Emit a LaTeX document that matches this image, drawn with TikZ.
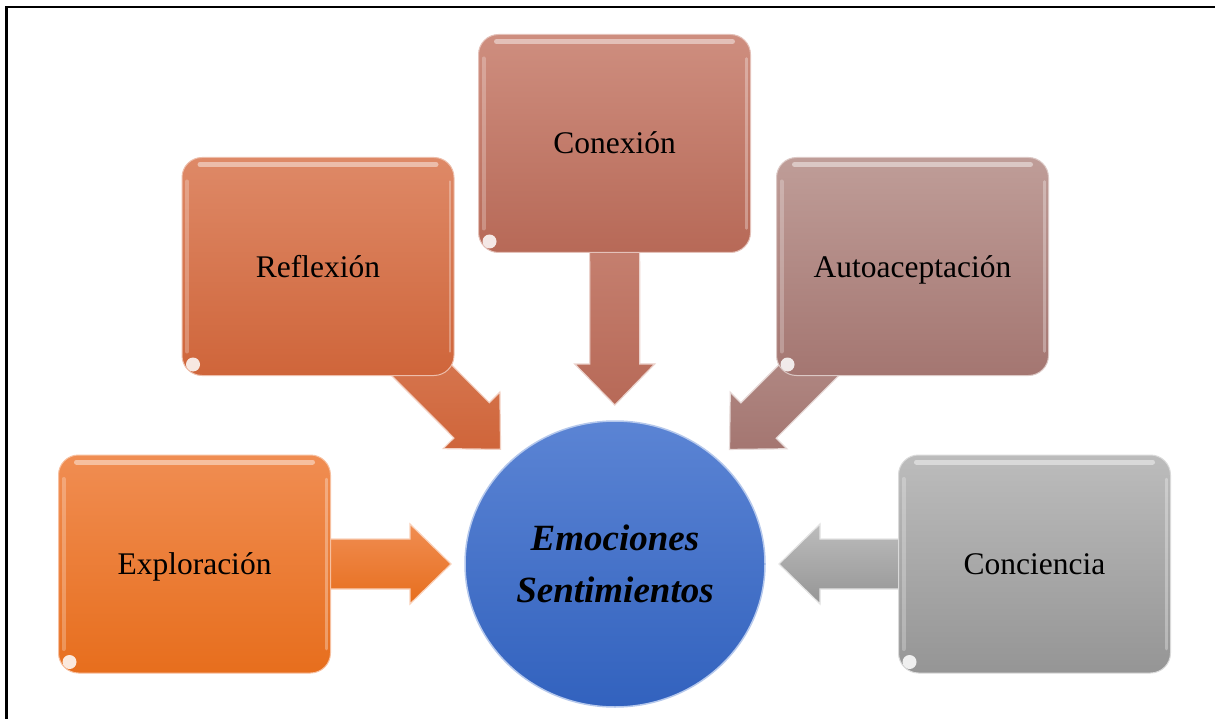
\documentclass[tikz,border=0pt]{standalone}
\usepackage{fontspec}
\setmainfont{Liberation Serif}
\usetikzlibrary{calc,shapes.geometric}
\pgfdeclarelayer{background}
\pgfsetlayers{background,main}

\definecolor{exT}{HTML}{F08D52}
\definecolor{exB}{HTML}{E76E1D}
\definecolor{reT}{HTML}{DE8967}
\definecolor{reB}{HTML}{CF653A}
\definecolor{coT}{HTML}{CE8E7F}
\definecolor{coB}{HTML}{B76957}
\definecolor{auT}{HTML}{BF9D98}
\definecolor{auB}{HTML}{A47671}
\definecolor{ciT}{HTML}{BCBCBC}
\definecolor{ciB}{HTML}{959595}
\definecolor{emT}{HTML}{5B84D4}
\definecolor{emB}{HTML}{3262BE}

\tikzset{
  box/.style 2 args={rectangle, rounded corners=20pt, minimum width=272pt,
    minimum height=218pt, top color=#1, bottom color=#2, draw=#1!55!white,
    line width=1pt, text=black, font=\fontsize{31.5}{36}\selectfont,
    text height=28pt, text depth=7pt,
    path picture={
      \draw[white, opacity=.45, line width=5pt, line cap=round]
        ([xshift=18pt,yshift=-7pt]path picture bounding box.north west) --
        ([xshift=-18pt,yshift=-7pt]path picture bounding box.north east);
      \draw[white, opacity=.25, line width=4pt, line cap=round]
        ([xshift=5pt,yshift=-24pt]path picture bounding box.north west) --
        ([xshift=5pt,yshift=24pt]path picture bounding box.south west);
      \draw[white, opacity=.3, line width=2.5pt, line cap=round]
        ([xshift=-4pt,yshift=-24pt]path picture bounding box.north east) --
        ([xshift=-4pt,yshift=24pt]path picture bounding box.south east);
      \fill[white, opacity=.85]
        ([xshift=11pt,yshift=11pt]path picture bounding box.south west) circle (7pt);
    }},
  blk/.style 2 args={top color=#1, bottom color=#2, draw=#1!40!white, line width=1.2pt},
  hub/.style={ellipse, minimum width=300pt, minimum height=286pt,
    top color=emT, bottom color=emB, draw=emT!45!white, line width=1.5pt,
    align=center, text=black, font=\fontsize{37}{52}\selectfont\bfseries\itshape},
  frame/.style={line width=2.5pt, black}
}

\newcommand\blockarrow[4]{%
  \coordinate (H) at ($(#2)!41pt!(#1)$);
  \path[blk={#3}{#4}]
    ($(#1)!25pt!90:(#2)$) -- ($(H)!25pt!90:(#2)$) -- ($(H)!40pt!90:(#2)$) --
    (#2) -- ($(H)!40pt!-90:(#2)$) -- ($(H)!25pt!-90:(#2)$) --
    ($(#1)!25pt!-90:(#2)$) -- cycle;
}

\begin{document}
\begin{tikzpicture}[x=1pt, y=-1pt]
  \useasboundingbox (0,0) rectangle (1215,719);
  \draw[frame] (6.5,719) -- (6.5,7) -- (1215,7);

  \node[box={exT}{exB}] (expl) at (194.5,564) {Exploración};
  \node[box={reT}{reB}] (refl) at (318,266.5) {Reflexión};
  \node[box={coT}{coB}] (conx) at (614.5,143.5) {Conexión};
  \node[box={auT}{auB}] (auto) at (912.5,266.5) {Autoaceptación};
  \node[box={ciT}{ciB}] (conc) at (1034.5,564) {Conciencia};

  \node[hub] (emo) at (615,564) {Emociones\\Sentimientos};

  \coordinate (tE) at ($(emo.center)!164pt!(expl.center)$);
  \coordinate (tR) at ($(emo.center)!162pt!(refl.center)$);
  \coordinate (tC) at ($(emo.center)!159pt!(conx.center)$);
  \coordinate (tA) at ($(emo.center)!162pt!(auto.center)$);
  \coordinate (tK) at ($(emo.center)!164pt!(conc.center)$);

  \begin{pgfonlayer}{background}
    \blockarrow{expl}{tE}{exT}{exB}
    \blockarrow{refl}{tR}{reT}{reB}
    \blockarrow{conx}{tC}{coT}{coB}
    \blockarrow{auto}{tA}{auT}{auB}
    \blockarrow{conc}{tK}{ciT}{ciB}
  \end{pgfonlayer}
\end{tikzpicture}
\end{document}
